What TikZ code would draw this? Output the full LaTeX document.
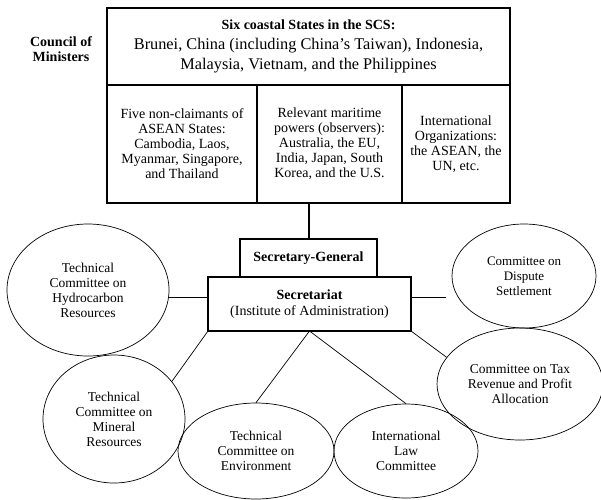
\documentclass[tikz,border=0pt]{standalone}
\usepackage{fontspec}
\setmainfont{Liberation Serif}
\usepackage{tikz}
\usetikzlibrary{positioning,shapes.geometric}
\tikzset{
  stackbox/.style={draw,line width=1.3pt,align=center,inner sep=2pt,outer sep=0pt},
  rowbox/.style={draw,line width=1.1pt,align=center,inner sep=2pt,outer sep=0pt,
                 minimum height=118pt,font=\fontsize{14}{15}\selectfont},
  secbox/.style={draw,line width=2pt,align=center,inner sep=2pt,outer sep=0pt,
                 font=\fontsize{14}{16}\selectfont},
  cttee/.style={ellipse,draw,line width=0.7pt,align=center,inner sep=0pt,
                font=\fontsize{13.5}{15}\selectfont},
  link/.style={line width=0.7pt},
  trunk/.style={line width=2pt}
}

\begin{document}
\begin{tikzpicture}[x=1pt,y=-1pt,node distance=0pt]
  \useasboundingbox (0,0) rectangle (601,499);

  % council of ministers
  \node[stackbox,anchor=north west,minimum width=403pt,minimum height=77pt,
        font=\fontsize{16.3}{20}\selectfont] (scs) at (107,8)
    {{\bfseries\fontsize{14}{20}\selectfont Six coastal States in the SCS:}\\
     Brunei, China (including China’s Taiwan), Indonesia,\\
     Malaysia, Vietnam, and the Philippines};
  \node[align=center,font=\bfseries\fontsize{14}{15.5}\selectfont] (council) at (61,49)
    {Council of\\Ministers};
  \node[rowbox,minimum width=150pt,anchor=north west] (nonclaim) at (scs.south west)
    {Five non-claimants of\\ASEAN States:\\Cambodia, Laos,\\Myanmar, Singapore,\\and Thailand};
  \node[rowbox,minimum width=145pt,right=of nonclaim] (powers)
    {Relevant maritime\\powers (observers):\\Australia, the EU,\\India, Japan, South\\Korea, and the U.S.};
  \node[rowbox,minimum width=108pt,right=of powers] (intorgs)
    {International\\Organizations:\\the ASEAN, the\\UN, etc.};

  % secretariat
  \node[secbox,minimum width=203pt,minimum height=54pt] (secretariat) at (309.5,304)
    {\textbf{Secretariat}\\(Institute of Administration)};
  \node[secbox,minimum width=137pt,minimum height=38pt,
        font=\bfseries\fontsize{14}{15}\selectfont,above=of secretariat,xshift=-1pt] (sg)
    {Secretary-General};
  \draw[trunk] (sg.north) -- (sg.north |- nonclaim.south);

  % committees
  \node[cttee,minimum width=162pt,minimum height=132pt] (hydro) at (88,290)
    {Technical\\Committee on\\Hydrocarbon\\Resources};
  \node[cttee,minimum width=142pt,minimum height=128pt] (mineral) at (114,419)
    {Technical\\Committee on\\Mineral\\Resources};
  \node[cttee,minimum width=156pt,minimum height=96pt] (env) at (256,451)
    {Technical\\Committee on\\Environment};
  \node[cttee,minimum width=144pt,minimum height=94pt] (intlaw) at (406,451)
    {International\\Law\\Committee};
  \node[cttee,minimum width=144pt,minimum height=104pt,
        font=\fontsize{13}{15}\selectfont] (dispute) at (524,276)
    {Committee on\\Dispute\\Settlement};
  \node[cttee,minimum width=166pt,minimum height=112pt] (tax) at (520,384)
    {Committee on Tax\\Revenue and Profit\\Allocation};

  \draw[link] (secretariat.176) -- (secretariat.176 -| hydro.east);
  \draw[link,shorten >=6pt] (secretariat.4) -- (secretariat.4 -| dispute.west);
  \draw[link] (secretariat.south west) -- (mineral.33);
  \draw[link] (secretariat.south) -- (env.north);
  \draw[link] (secretariat.south) -- (intlaw.north);
  \draw[link] (secretariat.south east) -- (tax.160);
\end{tikzpicture}
\end{document}
